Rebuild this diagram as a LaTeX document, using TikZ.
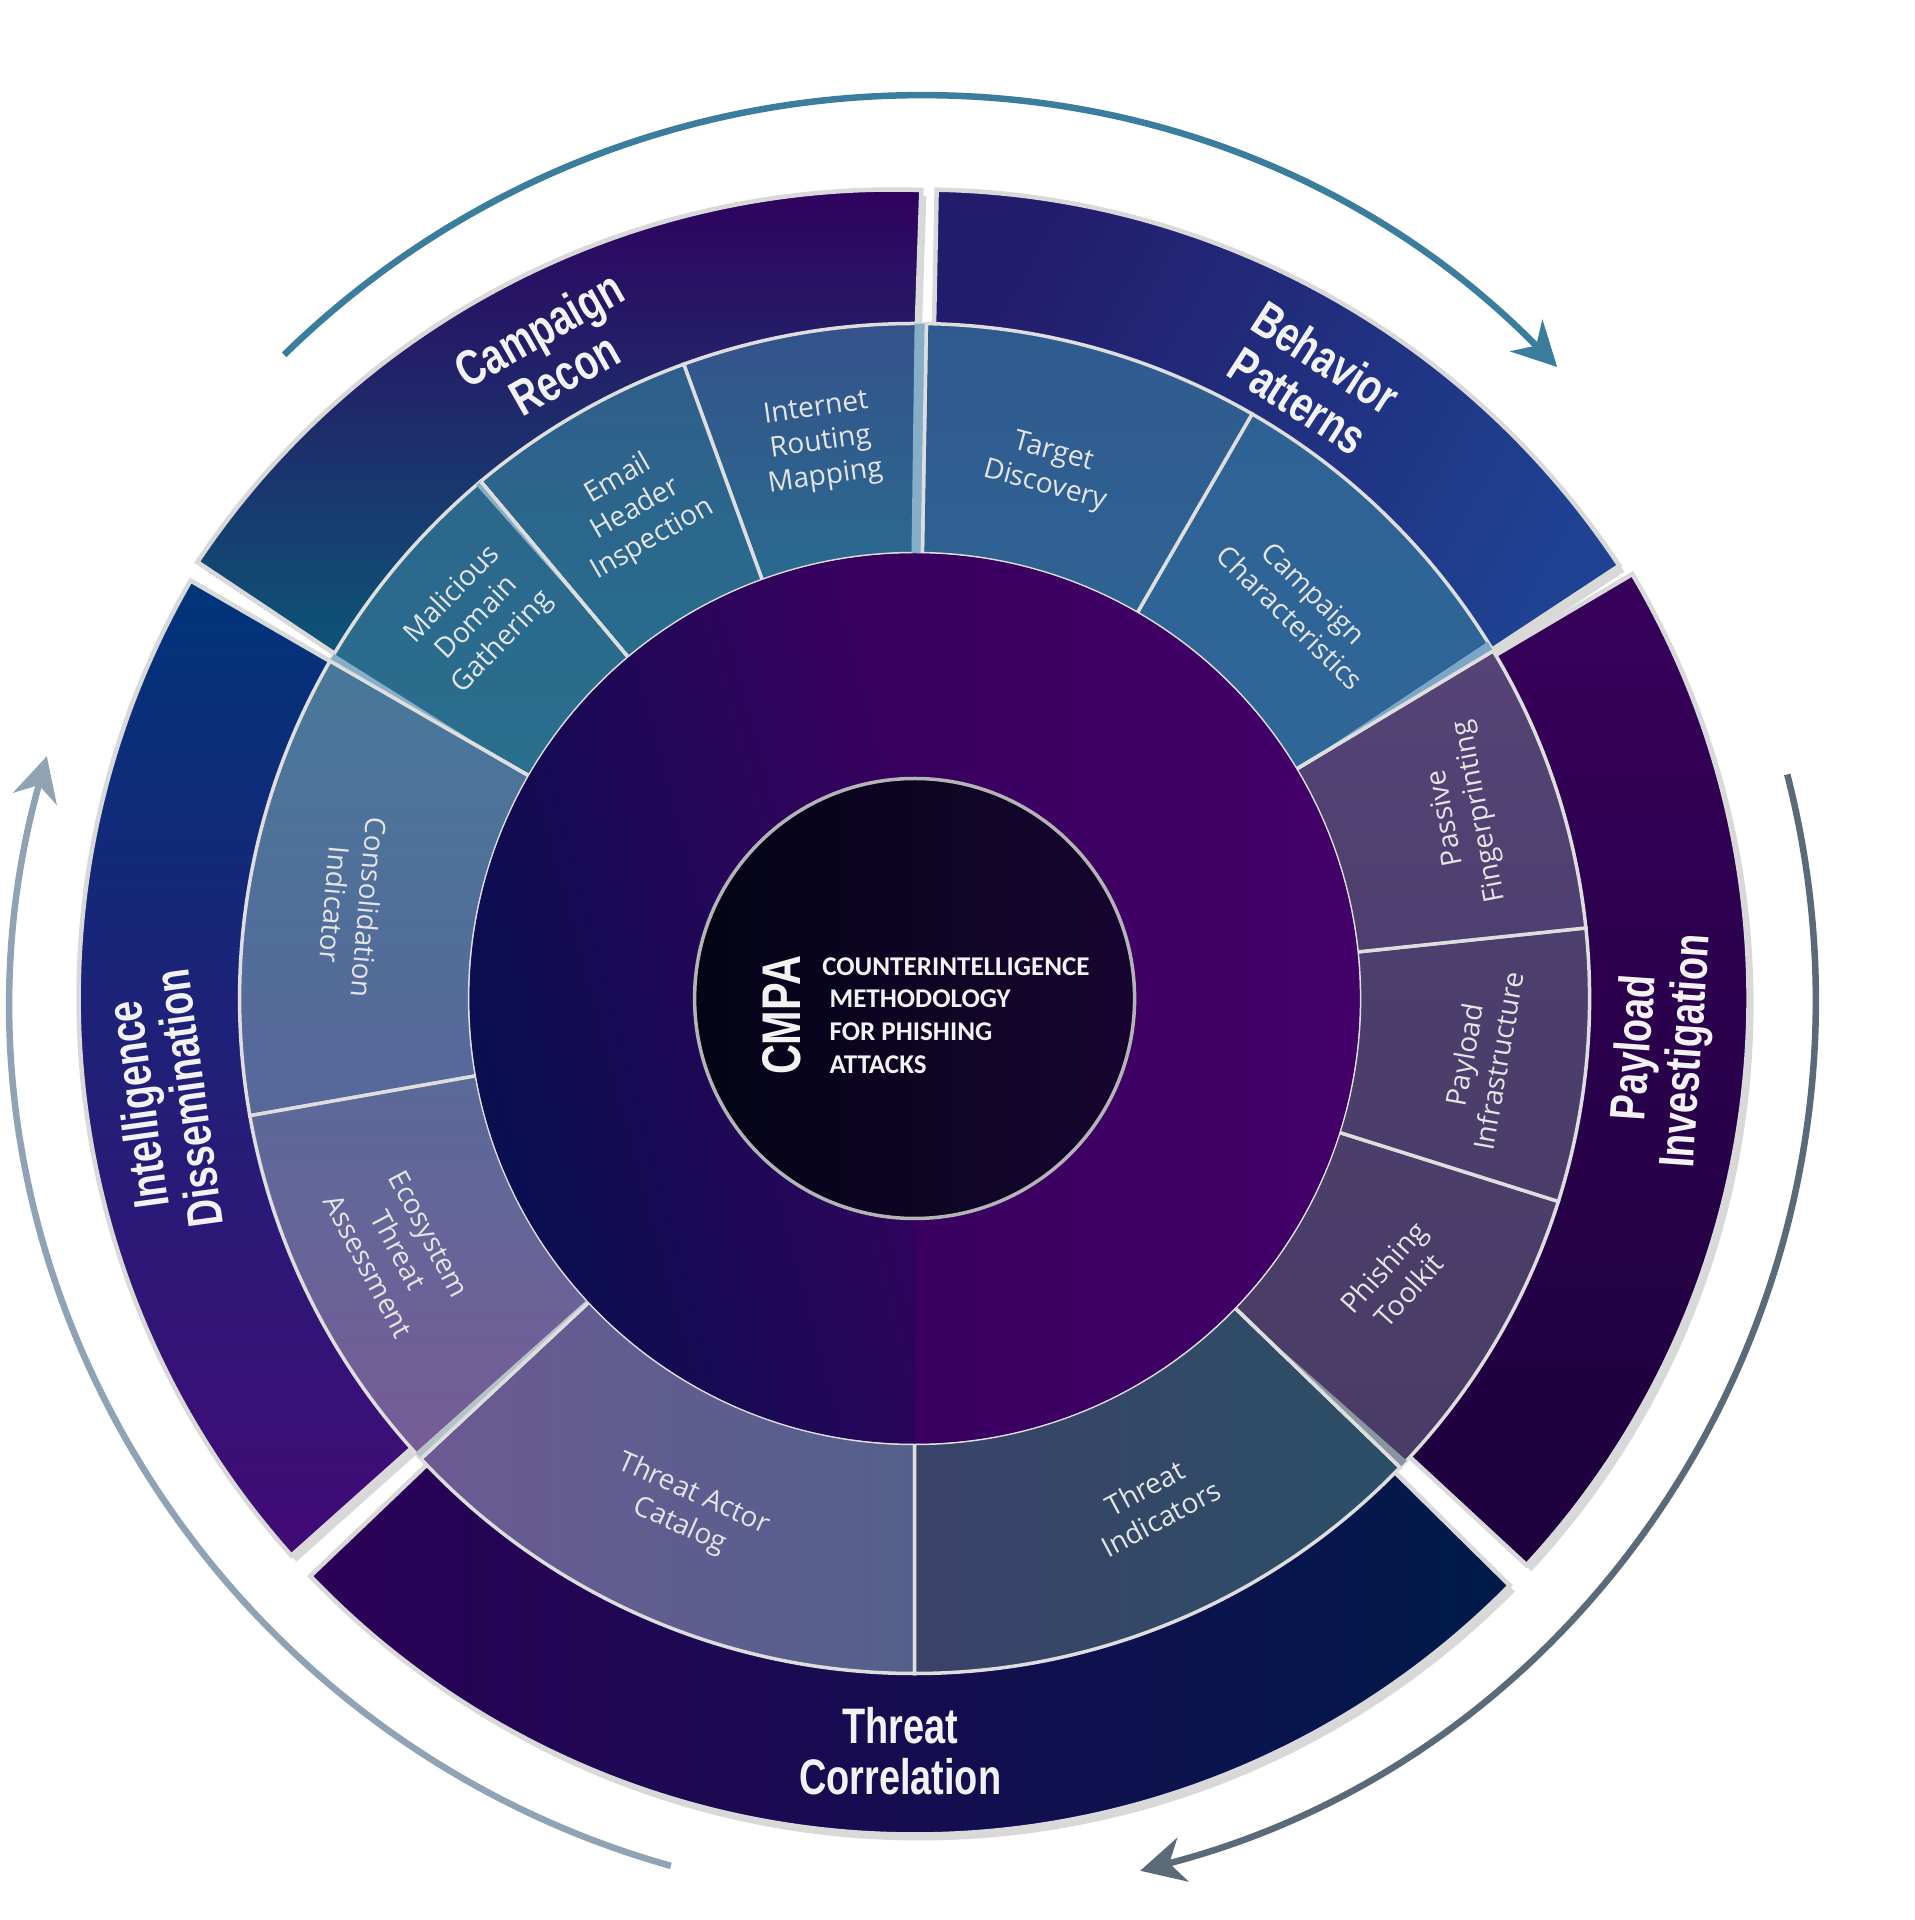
\documentclass[tikz,border=0pt]{standalone}
\usepackage{fontspec}
\usepackage{xcolor}
\usetikzlibrary{arrows.meta, shadows}

\setmainfont{Open Sans}
\newfontfamily\headfont{Liberation Sans}[FakeStretch=0.76]
\newfontfamily\corefont{Carlito}

% band borders and texts
\definecolor{bandline}{HTML}{D9D9D9}
\definecolor{leafline}{HTML}{DEDEDE}
\definecolor{coreline}{HTML}{B4B4B4}
\definecolor{labelwhite}{HTML}{F2F2F2}
\definecolor{leaftext}{HTML}{E4E4E4}
% outer band
\definecolor{reconA}{HTML}{30005E}
\definecolor{reconB}{HTML}{0A5A78}
\definecolor{behavA}{HTML}{231C6C}
\definecolor{behavB}{HTML}{1F4292}
\definecolor{payA}{HTML}{37005A}
\definecolor{payB}{HTML}{1C003C}
\definecolor{corrA}{HTML}{2B0056}
\definecolor{corrB}{HTML}{001A4A}
\definecolor{dissA}{HTML}{00357A}
\definecolor{dissB}{HTML}{420A76}
% middle band
\definecolor{routingA}{HTML}{34528A}
\definecolor{routingB}{HTML}{2A6A8F}
\definecolor{emailA}{HTML}{2F5E8B}
\definecolor{emailB}{HTML}{286D8E}
\definecolor{domainA}{HTML}{2C668C}
\definecolor{domainB}{HTML}{2A6F8E}
\definecolor{targetA}{HTML}{305A8E}
\definecolor{targetB}{HTML}{2F6394}
\definecolor{charA}{HTML}{2F6294}
\definecolor{charB}{HTML}{2F6698}
\definecolor{passiveA}{HTML}{554475}
\definecolor{passiveB}{HTML}{4D3F6F}
\definecolor{infraA}{HTML}{4D3F6D}
\definecolor{infraB}{HTML}{4A3D69}
\definecolor{toolkitA}{HTML}{4B3E6A}
\definecolor{toolkitB}{HTML}{493C66}
\definecolor{indicA}{HTML}{3A4268}
\definecolor{indicB}{HTML}{2B4F66}
\definecolor{actorA}{HTML}{6B5A93}
\definecolor{actorB}{HTML}{54608B}
\definecolor{ecoA}{HTML}{5A6A98}
\definecolor{ecoB}{HTML}{775C97}
\definecolor{consolA}{HTML}{48789A}
\definecolor{consolB}{HTML}{58679A}
% hub and core
\definecolor{hubA}{HTML}{05104E}
\definecolor{hubB}{HTML}{39005F}
\definecolor{hubC}{HTML}{430069}
\definecolor{coreA}{HTML}{030416}
\definecolor{coreB}{HTML}{170530}
% cycle arrows and group shadows
\definecolor{arrowteal}{HTML}{3B7D9D}
\definecolor{arrowslate}{HTML}{5B6A79}
\definecolor{arrowmist}{HTML}{8FA3B4}
\definecolor{wedgeblue}{HTML}{86AEC6}
\definecolor{wedgesky}{HTML}{7CA6C6}
\definecolor{wedgegray}{HTML}{8A95A0}
\definecolor{wedgemist}{HTML}{B6C2CA}

% ring sector: start angle, end angle, inner radius, outer radius
\newcommand{\ringpart}[4]{(#1:#4) arc[start angle=#1, end angle=#2, radius=#4] -- (#2:#3) arc[start angle=#2, end angle=#1, radius=#3] -- cycle}

\tikzset{
  bandseg/.style={draw=bandline, line width=0.045cm,
    drop shadow={shadow xshift=0.05cm, shadow yshift=-0.06cm, opacity=0.3}},
  leafseg/.style={draw=leafline, line width=0.035cm},
  leafedge/.style={draw=leafline, line width=0.035cm},
  headlabel/.style={text=labelwhite, align=center, inner sep=0pt,
    font=\headfont\bfseries\fontsize{14.2}{14.6}\selectfont},
  leaflabel/.style={text=leaftext, align=center, inner sep=0pt,
    font=\fontsize{8}{9.8}\selectfont},
  coredisc/.style={circle, minimum size=4.4cm, inner sep=0pt, draw=coreline,
    line width=0.035cm, left color=coreA, right color=coreB},
  cycarrow/.style={line width=0.065cm,
    -{Stealth[length=0.44cm, width=0.45cm, inset=0.14cm]}}
}

\begin{document}
\begin{tikzpicture}
  \useasboundingbox (-9.146,-9.215) rectangle (10.004,9.985);
  \fill[white] (-9.146,-9.215) rectangle (10.004,9.985);

  % outer band
  \begin{scope}[shift={(-0.21,-0.28)}]
    \draw[bandseg, top color=reconA, bottom color=reconB] \ringpart{88.1}{146.3}{6.2}{8.37};
  \end{scope}
  \begin{scope}[shift={(0.06,-0.28)}]
    \draw[bandseg, top color=behavA, bottom color=behavB, shading angle=61] \ringpart{33.4}{88.9}{6.2}{8.37};
  \end{scope}
  \draw[bandseg, top color=payA, bottom color=payB] \ringpart{-42.8}{30.6}{6.2}{8.34};
  \draw[bandseg, left color=corrA, right color=corrB] \ringpart{-136.3}{-44.6}{6.2}{8.36};
  \draw[bandseg, top color=dissA, bottom color=dissB] \ringpart{150}{221.8}{6.2}{8.36};

  % middle band
  \draw[leafseg, top color=routingA, bottom color=routingB] \ringpart{89}{110}{4.45}{6.75};
  \draw[leafseg, top color=emailA, bottom color=emailB] \ringpart{110}{130}{4.45}{6.75};
  \draw[leafseg, top color=domainA, bottom color=domainB] \ringpart{130}{150}{4.45}{6.75};
  \draw[leafseg, top color=consolA, bottom color=consolB] \ringpart{150}{190}{4.45}{6.75};
  \draw[leafseg, top color=ecoA, bottom color=ecoB] \ringpart{190}{223}{4.45}{6.75};
  \draw[leafseg, left color=actorA, right color=actorB] \ringpart{223}{270}{4.45}{6.75};
  \draw[leafseg, left color=indicA, right color=indicB] \ringpart{270}{316}{4.45}{6.75};
  \draw[leafseg, top color=toolkitA, bottom color=toolkitB] \ringpart{-44}{-17.5}{4.45}{6.75};
  \draw[leafseg, top color=infraA, bottom color=infraB] \ringpart{-17.5}{6}{4.45}{6.75};
  \draw[leafseg, top color=passiveA, bottom color=passiveB] \ringpart{6}{31}{4.45}{6.75};
  \draw[leafseg, top color=charA, bottom color=charB] \ringpart{31}{60}{4.45}{6.75};
  \draw[leafseg, top color=targetA, bottom color=targetB] \ringpart{60}{89}{4.45}{6.75};

  % shadows along the group edges
  \fill[wedgeblue] (89:4.45) -- (89:6.75) -- (90:6.75) -- (90.4:4.45) -- cycle;
  \fill[wedgeblue] (130:4.6) -- (130:6.75) -- (130.5:6.75) -- cycle;
  \fill[wedgesky] (31:4.45) -- (31:6.75) -- (31.9:6.75) -- cycle;
  \fill[wedgeblue] (150:4.6) -- (150:6.75) -- (149.3:6.75) -- cycle;
  \fill[wedgegray] (-44:4.6) -- (-44:6.75) -- (-43.2:6.75) -- cycle;
  \fill[wedgemist] (223:4.45) -- (223:6.75) -- (222.3:6.75) -- (222.6:4.45) -- cycle;
  \draw[leafedge] (89:4.45) -- (89:6.75);
  \draw[leafedge] (130:4.45) -- (130:6.75);
  \draw[leafedge] (31:4.45) -- (31:6.75);
  \draw[leafedge] (150:4.45) -- (150:6.75);
  \draw[leafedge] (-44:4.45) -- (-44:6.75);
  \draw[leafedge] (223:4.45) -- (223:6.75);

  % hub ring and core
  \fill[hubB] (0,0) circle (4.45);
  \shade[left color=hubA, right color=hubB, shading angle=105] \ringpart{90}{270}{2.2}{4.45};
  \shade[left color=hubB, right color=hubC] \ringpart{-90}{90}{2.2}{4.45};
  \node[coredisc] (core) at (0,0) {};
  \node[text=labelwhite, rotate=90, inner sep=0pt, font=\headfont\bfseries\fontsize{15.5}{16}\selectfont] (acronym) at (-1.33,-0.17) {CMPA};
  \node[text=labelwhite, anchor=west, align=left, inner sep=0pt, font=\corefont\bfseries\fontsize{7.7}{9.3}\selectfont] (motto) at (-0.93,-0.17) {COUNTERINTELLIGENCE\\\hspace{0.27em}METHODOLOGY\\\hspace{0.27em}FOR PHISHING\\\hspace{0.27em}ATTACKS};

  % group titles
  \node[headlabel, rotate=29.5] (recon) at (119.3:7.42) {Campaign\\Recon};
  \node[headlabel, rotate=-32.7] (patterns) at (57.3:7.36) {Behavior\\Patterns};
  \node[headlabel, rotate=86] (payload) at (-3.9:7.5) {Payload\\Investigation};
  \node[headlabel] (correlation) at (-91.1:7.53) {Threat\\Correlation};
  \node[headlabel, rotate=97.8] (dissemination) at (187.8:7.59) {Intelligence\\Dissemination};

  % step labels
  \node[leaflabel, rotate=8] (routing) at (99.6:5.63) {Internet\\Routing\\Mapping};
  \node[leaflabel, rotate=30] (header) at (119.7:5.63) {Email\\Header\\Inspection};
  \node[leaflabel, rotate=46] (domain) at (139:5.79) {Malicious\\Domain\\Gathering};
  \node[leaflabel, rotate=-15] (target) at (75.7:5.46) {Target\\Discovery};
  \node[leaflabel, rotate=-44.5] (traits) at (45.4:5.52) {Campaign\\Characteristics};
  \node[leaflabel, rotate=101] (fingerprint) at (18.5:5.79) {Passive\\Fingerprinting};
  \node[leaflabel, rotate=80] (infra) at (-6:5.70) {Payload\\Infrastructure};
  \node[leaflabel, rotate=48] (toolkit) at (-30.2:5.57) {Phishing\\Toolkit};
  \node[leaflabel, rotate=28] (indicators) at (-64.7:5.58) {Threat\\Indicators};
  \node[leaflabel, rotate=-24] (actors) at (-114:5.60) {Threat Actor\\Catalog};
  \node[leaflabel, rotate=-62] (ecosystem) at (206:5.74) {Ecosystem\\Threat\\Assessment};
  \node[leaflabel, rotate=-95] (consolidation) at (170.7:5.70) {Consolidation\\Indicator};

  % cycle arrows
  \coordinate (topstart) at (134.4:9.01);
  \coordinate (rightstart) at (14.4:9.01);
  \coordinate (leftstart) at (254.3:9.01);
  \draw[cycarrow, draw=arrowteal] (topstart) arc[start angle=134.4, end angle=44.5, radius=9.01];
  \draw[cycarrow, draw=arrowslate] (rightstart) arc[start angle=14.4, end angle=-75.5, radius=9.01];
  \draw[cycarrow, draw=arrowmist] (leftstart) arc[start angle=254.3, end angle=164.4, radius=9.01];
\end{tikzpicture}
\end{document}
